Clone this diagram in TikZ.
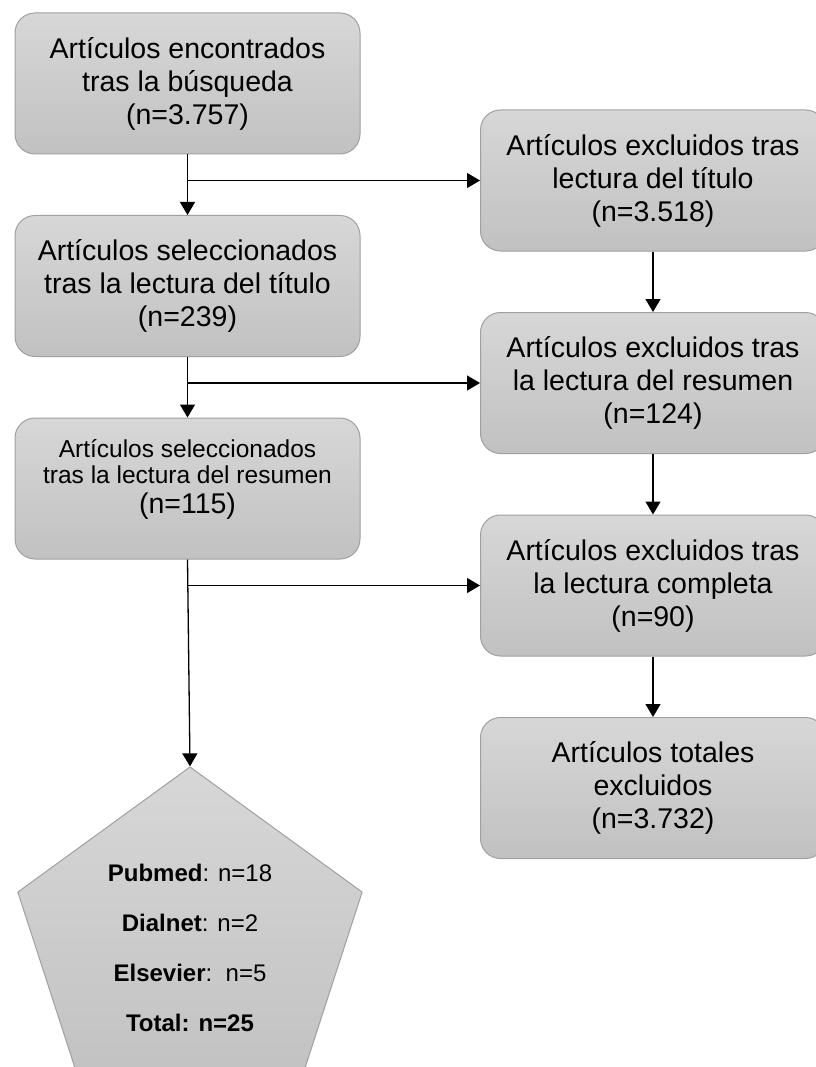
\documentclass[tikz,border=0pt]{standalone}
\usepackage{fontspec}
\setmainfont{Liberation Sans}
\usetikzlibrary{shapes.geometric,positioning,arrows.meta}
\definecolor{boxtop}{RGB}{215,215,215}
\definecolor{boxbottom}{RGB}{193,193,193}
\definecolor{boxline}{RGB}{160,160,160}

\begin{document}
\begin{tikzpicture}[x=1pt,y=-1pt,
    stage/.style={rectangle,rounded corners=20pt,line width=1pt,draw=boxline,
		top color=boxtop,bottom color=boxbottom,minimum width=345pt,
		minimum height=141pt,align=center,font=\fontsize{28.5}{33}\selectfont},
    result/.style={regular polygon,regular polygon sides=5,minimum size=362pt,
		inner sep=0pt,line width=1pt,draw=boxline,top color=boxtop,
		bottom color=boxbottom,align=center,font=\fontsize{24}{50}\selectfont},
    flow/.style={line width=1.3pt,-{Triangle[length=13pt,width=15pt]}}
]
    \useasboundingbox (0,0) rectangle (815,1067);
    \node (found) [stage] at (187.5,83.5)
	{Artículos encontrados\\tras la búsqueda\\(n=3.757)};
    \node (seltitle) [stage,below=60.5pt of found]
	{Artículos seleccionados\\tras la lectura del título\\(n=239)};
    \node (selsum) [stage,text depth=25pt,below=60.5pt of seltitle]
	{\fontsize{24.5}{28}\selectfont Artículos seleccionados\\[-7pt]
	 \fontsize{24.5}{28}\selectfont tras la lectura del resumen\\[-3pt]
	 \fontsize{28.5}{31}\selectfont (n=115)};
    \node (total) [result] at (190,948)
	{\textbf{Pubmed}: n=18\\\textbf{Dialnet}: n=2\\
	 \textbf{Elsevier}:\ \ n=5\\\textbf{Total: n=25}};

    \node (exctitle) [stage] at (653,180.5)
	{Artículos excluidos tras\\lectura del título\\(n=3.518)};
    \node (excsum) [stage,below=60.5pt of exctitle]
	{Artículos excluidos tras\\la lectura del resumen\\(n=124)};
    \node (excfull) [stage,below=60.5pt of excsum]
	{Artículos excluidos tras\\la lectura completa\\(n=90)};
    \node (excall) [stage,below=60.5pt of excfull]
	{Artículos totales\\excluidos\\(n=3.732)};

    \draw [flow] (found.south) -- (seltitle.north);
    \draw [flow] (seltitle.south) -- (selsum.north);
    \draw [flow] (selsum.south) -- (total.north);
    \draw [flow] (found.south |- exctitle.west) -- (exctitle.west);
    \draw [flow] (seltitle.south |- excsum.west) -- (excsum.west);
    \draw [flow] (selsum.south |- excfull.west) -- (excfull.west);
    \draw [flow] (exctitle) -- (excsum);
    \draw [flow] (excsum) -- (excfull);
    \draw [flow] (excfull) -- (excall);
\end{tikzpicture}
\end{document}
